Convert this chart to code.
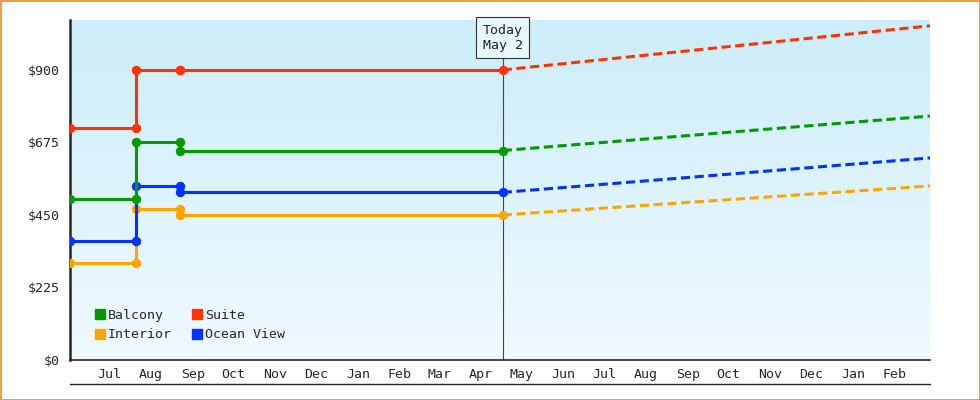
import numpy as np, pandas as pd, matplotlib
matplotlib.use("Agg")
import matplotlib.pyplot as plt, matplotlib.dates as mdates, seaborn as sns
from matplotlib.transforms import blended_transform_factory as btf

sns.set_style("white")
plt.rcParams['font.family'] = ['DejaVu Sans Mono']

dates = pd.to_datetime(["2023-06-17","2023-08-05","2023-08-05","2023-09-06","2023-09-06","2024-05-02"])
today = pd.Timestamp("2024-05-02")
end = pd.Timestamp("2025-03-14")
names = ["Balcony","Suite","Interior","Ocean View"]
colors = {"Balcony":"#009900","Suite":"#ff3300","Interior":"#ffa500","Ocean View":"#0033ff"}
hist = {
    "Suite":      [720,720,900,900,900,900],
    "Balcony":    [500,500,675,675,650,650],
    "Ocean View": [370,370,540,540,520,520],
    "Interior":   [300,300,470,470,450,450],
}
proj_end = {"Suite":1037,"Balcony":757,"Ocean View":627,"Interior":540}
yticks = [0,225,450,675,900]

fig = plt.figure(figsize=(9.8,4), dpi=100)
fig.patch.set_facecolor("white"); fig.patch.set_edgecolor("#f0a040"); fig.patch.set_linewidth(2)
ax = fig.add_axes([70/980, 40/400, 860/980, 340/400])
grad = np.linspace(1,0,256).reshape(-1,1)
top = np.array([0.80,0.93,0.98]); bot = np.array([0.94,0.98,1.0])
img = bot + (top-bot)*grad[...,None]
ax.imshow(img, extent=[0,1,0,1], transform=ax.transAxes, aspect="auto", zorder=0)

for n in ["Interior","Ocean View","Balcony","Suite"]:
    c = colors[n]
    sns.lineplot(x=dates, y=hist[n], ax=ax, color=c, lw=2.2, marker="o", ms=6, mec=c,
                 estimator=None, sort=False, zorder=3)
    sns.lineplot(x=[today,end], y=[hist[n][-1],proj_end[n]], ax=ax, color=c, lw=2.2,
                 estimator=None, sort=False, zorder=3)
    ax.lines[-1].set_dashes([3,1.5])
ax.axvline(today, color="#444444", lw=0.8, zorder=2)
ax.text(today, 1000, "Today\nMay 2", ha="center", va="center", fontsize=9.5, color="#222",
        bbox=dict(boxstyle="square,pad=0.5", fc="#e8f7fd", ec="#333", lw=0.8), zorder=5)

ax.set_xlim(pd.Timestamp("2023-06-17"), end)
ax.set_ylim(0, 1055)
ax.set_yticks(yticks); ax.set_yticklabels([f"${v}" for v in yticks], fontsize=9.5)
months = pd.date_range("2023-07-01","2025-03-01",freq="MS")
ax.xaxis.set_minor_locator(mdates.MonthLocator())
ax.tick_params(axis="x", which="minor", length=22, width=1, color="#222", direction="out")
mids = months[:-1] + pd.Timedelta(days=15)
ax.set_xticks(mids); ax.set_xticklabels([m.strftime("%b") for m in months[:-1]], fontsize=9.5)
ax.tick_params(axis="x", which="major", length=0, pad=6)
ax.tick_params(axis="y", length=4, width=1.5, color="#222")
ax.plot([0,1],[-0.07,-0.07], transform=ax.transAxes, color="#222", lw=1, clip_on=False)
for s in ["top","right"]: ax.spines[s].set_visible(False)
ax.spines["left"].set_linewidth(1.8); ax.spines["bottom"].set_linewidth(1.2)
ax.set_xlabel(""); ax.set_ylabel("")

from matplotlib.patches import Patch
h = [Patch(color=colors[n]) for n in ["Balcony","Interior","Suite","Ocean View"]]
ax.legend(h, ["Balcony","Interior","Suite","Ocean View"], ncol=2, loc="lower left", frameon=False,
          fontsize=9.5, handlelength=0.8, handleheight=0.8, handletextpad=0.2, columnspacing=1.5,
          bbox_to_anchor=(0.015,0.02))
fig.savefig("out.png", dpi=100, facecolor=fig.get_facecolor(), edgecolor=fig.get_edgecolor())
